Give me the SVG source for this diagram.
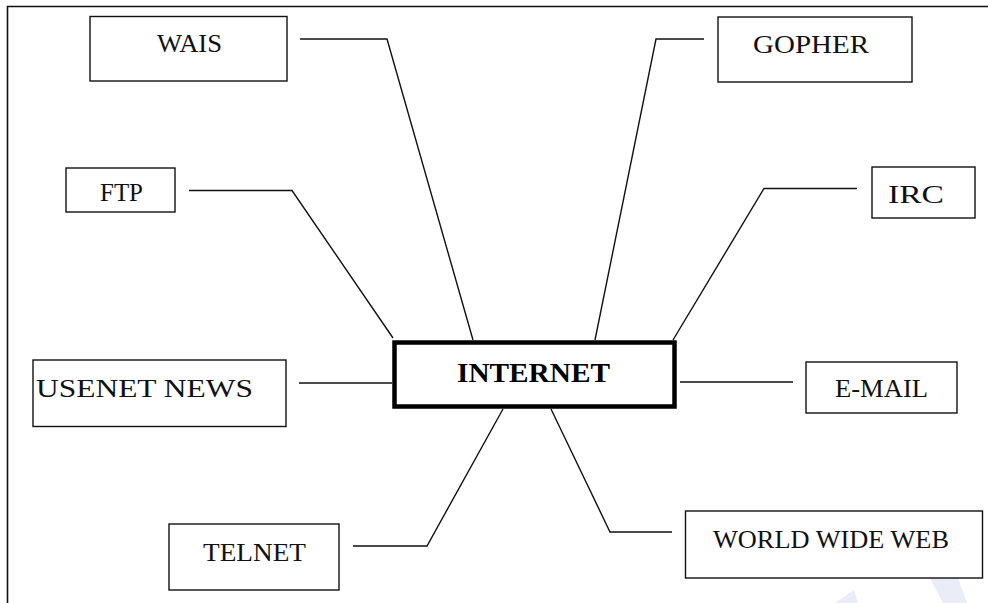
<svg xmlns="http://www.w3.org/2000/svg" width="988" height="603" viewBox="0 0 988 603">
<style>
.box{fill:#fff;stroke:#111;stroke-width:1.4}
.main{fill:#fff;stroke:#000;stroke-width:4.5}
.lbl{font-family:"Liberation Serif","Times New Roman",serif;font-size:26px;fill:#111}
.bold{font-family:"Liberation Serif","Times New Roman",serif;font-size:28px;font-weight:bold;fill:#000}
.conn{fill:none;stroke:#111;stroke-width:1.4}
.wm{fill:#eaecf7;stroke:none}
</style>
<rect x="0" y="0" width="988" height="603" fill="#fff"/>
<polygon class="wm" points="927,572 952,561 967,603 943,603"/>
<polygon class="wm" points="835,603 854,590 858,603"/>
<g id="frame"><path d="M7.5,603 V6.5 H988" fill="none" stroke="#111" stroke-width="1.6"/></g>
<g id="connectors">
<polyline class="conn" points="300,39 387,39 473,340"/>
<polyline class="conn" points="189,190.5 292,190.5 393,338"/>
<polyline class="conn" points="704,39 656,39 595,340"/>
<polyline class="conn" points="857,188.5 764,188.5 673,340"/>
<line class="conn" x1="299" y1="383" x2="392" y2="383"/>
<line class="conn" x1="680" y1="382" x2="793" y2="382"/>
<polyline class="conn" points="353,546 427,546 503,409"/>
<polyline class="conn" points="551,409 610,532 672,532"/>
</g>
<g id="wais"><rect class="box" x="90" y="16.5" width="197" height="64.5"/><text class="lbl" x="157" y="52" textLength="65" lengthAdjust="spacingAndGlyphs">WAIS</text></g>
<g id="ftp"><rect class="box" x="66" y="168" width="109" height="44"/><text class="lbl" x="100" y="201" textLength="43" lengthAdjust="spacingAndGlyphs">FTP</text></g>
<g id="gopher"><rect class="box" x="718" y="17" width="194" height="65"/><text class="lbl" x="753" y="53" textLength="116" lengthAdjust="spacingAndGlyphs">GOPHER</text></g>
<g id="irc"><rect class="box" x="872" y="167" width="103" height="51"/><text class="lbl" x="888" y="203" textLength="56" lengthAdjust="spacingAndGlyphs">IRC</text></g>
<g id="usenet"><rect class="box" x="33" y="360" width="253" height="66.5"/><text class="lbl" x="36" y="397" textLength="217" lengthAdjust="spacingAndGlyphs">USENET NEWS</text></g>
<g id="internet"><rect class="main" x="394.5" y="342.5" width="280" height="64"/><text class="bold" x="457" y="382" textLength="153" lengthAdjust="spacingAndGlyphs">INTERNET</text></g>
<g id="email"><rect class="box" x="806" y="362" width="151" height="51"/><text class="lbl" x="835" y="397" textLength="93" lengthAdjust="spacingAndGlyphs">E-MAIL</text></g>
<g id="telnet"><rect class="box" x="169" y="524" width="170" height="66"/><text class="lbl" x="203" y="561" textLength="103" lengthAdjust="spacingAndGlyphs">TELNET</text></g>
<g id="www"><rect class="box" x="685.5" y="511" width="297" height="67"/><text class="lbl" x="713" y="548" textLength="236" lengthAdjust="spacingAndGlyphs">WORLD WIDE WEB</text></g>
</svg>
